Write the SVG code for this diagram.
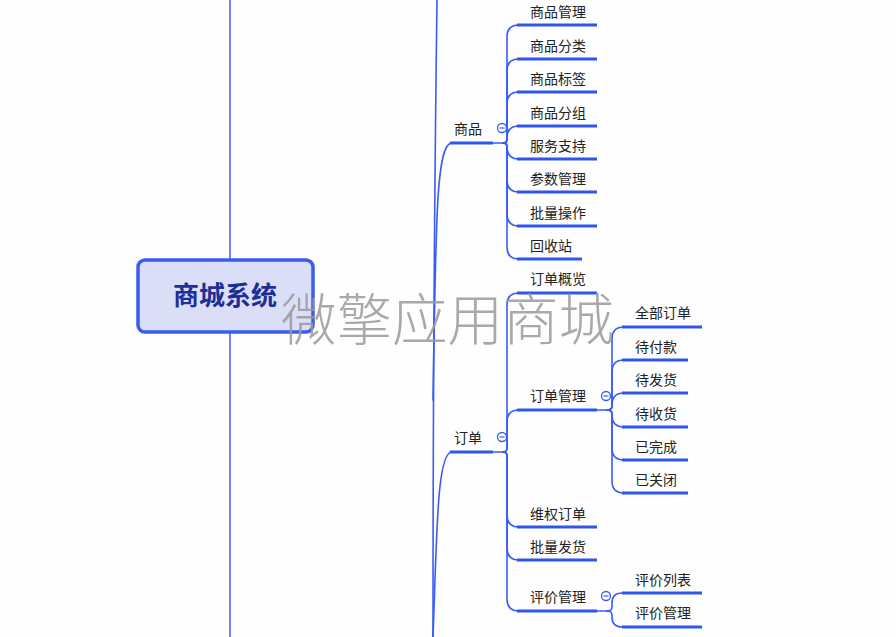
<svg xmlns="http://www.w3.org/2000/svg" width="896" height="637" viewBox="0 0 896 637">
<style>
  .thin{fill:none;stroke:#3a5cf5;stroke-width:1.6;stroke-linecap:round}
  .ul{fill:none;stroke:#2e55f0;stroke-width:3;stroke-linecap:butt}
  .trunk{fill:none;stroke:#6b84ff;stroke-width:2}
  .lbl{font-family:"Noto Sans CJK SC","Liberation Sans",sans-serif;font-size:14px;fill:#222}
  .col circle{fill:#fff;stroke:#3a5cf5;stroke-width:1.3}
  .col line{stroke:#3a5cf5;stroke-width:1.2}
</style>
<rect width="896" height="637" fill="#fdfefd"/>
<g id="connectors">
  <line class="trunk" x1="230" y1="0" x2="230" y2="260"/>
  <line class="trunk" x1="230" y1="333" x2="230" y2="637"/>
  <path class="thin" d="M437 0 C435 150 433 300 433 637" stroke-width="2"/>
  <path class="thin" d="M433 400 C436 220 436 143 452 143" stroke-width="2"/>
  <path class="thin" d="M433 637 C437 530 437 452 452 452" stroke-width="2"/>
  <path class="ul" d="M450 143 H493"/>
  <path class="thin" d="M493 143 H504"/>
  <path class="ul" d="M450 452 H493"/>
  <path class="thin" d="M493 452 H504"/>
  <path class="thin" d="M503 143 Q507 143 507 139 L507 37 Q507 25 519 25"/>
  <path class="thin" d="M503 143 Q507 143 507 139 L507 71 Q507 59 519 59"/>
  <path class="thin" d="M503 143 Q507 143 507 139 L507 104 Q507 92 519 92"/>
  <path class="thin" d="M503 143 Q507 143 507 139 L507 138 Q507 126 519 126"/>
  <path class="thin" d="M503 143 Q507 143 507 147 L507 147 Q507 159 519 159"/>
  <path class="thin" d="M503 143 Q507 143 507 147 L507 180 Q507 192 519 192"/>
  <path class="thin" d="M503 143 Q507 143 507 147 L507 214 Q507 226 519 226"/>
  <path class="thin" d="M503 143 Q507 143 507 147 L507 247 Q507 259 519 259"/>
  <path class="ul" d="M517 25 H597 M517 59 H597 M517 92 H597 M517 126 H597 M517 159 H597 M517 192 H597 M517 226 H597 M517 259 H582"/>
  <path class="thin" d="M503 452 Q507 452 507 448 L507 305 Q507 293 519 293"/>
  <path class="thin" d="M503 452 Q507 452 507 448 L507 422 Q507 410 519 410"/>
  <path class="thin" d="M503 452 Q507 452 507 456 L507 515 Q507 527 519 527"/>
  <path class="thin" d="M503 452 Q507 452 507 456 L507 548 Q507 560 519 560"/>
  <path class="thin" d="M503 452 Q507 452 507 456 L507 599 Q507 611 519 611"/>
  <path class="ul" d="M517 293 H597 M517 410 H597 M517 527 H597 M517 560 H597 M517 611 H597"/>
  <path class="thin" d="M597 410 H608"/>
  <path class="thin" d="M607 410 Q612 410 612 406 L612 339 Q612 327 624 327"/>
  <path class="thin" d="M607 410 Q612 410 612 406 L612 372 Q612 360 624 360"/>
  <path class="thin" d="M607 410 Q612 410 612 406 L612 405 Q612 393 624 393"/>
  <path class="thin" d="M607 410 Q612 410 612 414 L612 415 Q612 427 624 427"/>
  <path class="thin" d="M607 410 Q612 410 612 414 L612 448 Q612 460 624 460"/>
  <path class="thin" d="M607 410 Q612 410 612 414 L612 481 Q612 493 624 493"/>
  <path class="ul" d="M622 327 H702 M622 360 H688 M622 393 H688 M622 427 H688 M622 460 H688 M622 493 H688"/>
  <path class="thin" d="M597 611 H608"/>
  <path class="thin" d="M607 611 Q612 611 612 607 L612 603 Q612 593 622 593"/>
  <path class="thin" d="M607 611 Q612 611 612 615 L612 617 Q612 627 622 627"/>
  <path class="ul" d="M622 593 H702 M622 627 H702"/>
</g>
<g id="root">
  <rect x="138" y="260" width="175" height="72" rx="7" fill="#dadff7" stroke="#3a5cf0" stroke-width="3.5"/>
  <text x="225" y="305" text-anchor="middle" font-family="Noto Sans CJK SC,Liberation Sans,sans-serif" font-size="26" font-weight="bold" fill="#1c2f96">商城系统</text>
</g>
<g id="n-shangpin"><text class="lbl" x="454" y="134">商品</text><g class="col"><circle cx="502" cy="128" r="4.5"/><line x1="499.5" y1="128" x2="504.5" y2="128"/></g></g>
<g id="n-dingdan"><text class="lbl" x="454" y="443">订单</text><g class="col"><circle cx="502" cy="437" r="4.5"/><line x1="499.5" y1="437" x2="504.5" y2="437"/></g></g>
<g id="n-spgl"><text class="lbl" x="530" y="17">商品管理</text></g>
<g id="n-spfl"><text class="lbl" x="530" y="51">商品分类</text></g>
<g id="n-spbq"><text class="lbl" x="530" y="84">商品标签</text></g>
<g id="n-spfz"><text class="lbl" x="530" y="118">商品分组</text></g>
<g id="n-fwzc"><text class="lbl" x="530" y="151">服务支持</text></g>
<g id="n-csgl"><text class="lbl" x="530" y="184">参数管理</text></g>
<g id="n-plcz"><text class="lbl" x="530" y="218">批量操作</text></g>
<g id="n-hsz"><text class="lbl" x="530" y="251">回收站</text></g>
<g id="n-ddgl0"><text class="lbl" x="530" y="284">订单概览</text></g>
<g id="n-ddgl"><text class="lbl" x="530" y="401">订单管理</text><g class="col"><circle cx="606" cy="396" r="4.5"/><line x1="603.5" y1="396" x2="608.5" y2="396"/></g></g>
<g id="n-qbdd"><text class="lbl" x="635" y="318">全部订单</text></g>
<g id="n-dfk"><text class="lbl" x="635" y="352">待付款</text></g>
<g id="n-dfh"><text class="lbl" x="635" y="385">待发货</text></g>
<g id="n-dsh"><text class="lbl" x="635" y="419">待收货</text></g>
<g id="n-ywc"><text class="lbl" x="635" y="452">已完成</text></g>
<g id="n-ygb"><text class="lbl" x="635" y="485">已关闭</text></g>
<g id="n-wqdd"><text class="lbl" x="530" y="519">维权订单</text></g>
<g id="n-plfh"><text class="lbl" x="530" y="552">批量发货</text></g>
<g id="n-pjgl"><text class="lbl" x="530" y="602">评价管理</text><g class="col"><circle cx="606" cy="596" r="4.5"/><line x1="603.5" y1="596" x2="608.5" y2="596"/></g></g>
<g id="n-pjlb"><text class="lbl" x="635" y="585">评价列表</text></g>
<g id="n-pjgl2"><text class="lbl" x="635" y="618">评价管理</text></g>
<text x="281" y="340" font-family="Noto Sans CJK SC,Liberation Sans,sans-serif" font-size="55.5" font-weight="300" fill="#9a9a9a" fill-opacity="0.85">微擎应用商城</text>
</svg>
